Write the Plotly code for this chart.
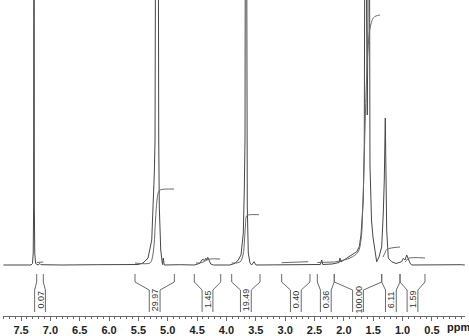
import plotly.graph_objects as go

# ---- 1H NMR spectrum trace (ppm, intensity in arbitrary units) ----
spec_ppm = [7.80, 7.50, 7.33, 7.305, 7.292, 7.285, 7.279, 7.273, 7.266, 7.252, 7.21, 7.18, 7.16,
            6.80, 6.20, 5.80, 5.50,
            5.422, 5.336, 5.273, 5.246, 5.229, 5.217, 5.205, 5.192, 5.180, 5.170, 5.154, 5.144,
            5.120, 5.103, 5.090, 5.076, 5.061,
            4.80, 4.55,
            4.451, 4.422, 4.394, 4.377, 4.353, 4.336, 4.319, 4.297, 4.268, 4.224,
            4.00,
            3.940, 3.854, 3.798, 3.752, 3.735, 3.713, 3.696, 3.684, 3.670, 3.655, 3.645, 3.628,
            3.599, 3.570, 3.531, 3.497,
            3.20, 2.80, 2.50, 2.40, 2.377, 2.36, 2.20, 2.12, 2.08, 2.066, 2.05,
            1.895, 1.781, 1.737, 1.708, 1.691, 1.669, 1.652, 1.640, 1.628, 1.613, 1.601, 1.589,
            1.577, 1.555, 1.529, 1.504, 1.469, 1.441, 1.401, 1.355, 1.328, 1.311, 1.294, 1.282,
            1.270, 1.243, 1.185, 1.112, 1.015, 0.987, 0.958, 0.929, 0.902, 0.873, 0.844,
            0.60, 0.30, 0.00, -0.06]
spec_int = [0, 0.3, 0, 1.5, 12, 60, 600, 60, 12, 1.5, 0, 1.5, 0.3,
            0, 0.3, 0, 0.5,
            2, 7, 25, 58, 92, 125, 165, 700, 450, 650, 125, 58,
            15, 2, 0.5, 7, 0,
            0.3, 0,
            1.7, 5, 5.7, 4.3, 6.7, 5, 7.7, 4.3, 1, 0,
            0.3,
            0, 1.7, 5, 10, 18, 32, 75, 125, 700, 125, 58, 12,
            2, 0, 3.3, 0,
            0.3, 0, 0.3, 0.5, 5, 0.5, 1, 2, 2.5, 7, 3,
            9, 13.3, 18.3, 30, 45, 65, 120, 250, 700, 250, 150, 250,
            700, 100, 45, 28, 12, 3.3, 8, 18.3, 52, 85, 147, 85,
            35, 7, 3.3, 1.5, 3.3, 6.7, 5, 10, 5, 2, 0,
            0.3, 0, 0.3, 0]

# ---- integrals ----
integral_labels = ["0.07", "29.97", "1.45", "19.49", "0.40", "0.36", "100.00", "6.11", "1.59"]
integral_from = [7.233, 5.558, 4.548, 3.911, 3.059, 2.452, 2.163, 1.355, 1.043]
integral_to = [7.120, 4.888, 4.098, 3.428, 2.577, 2.163, 1.355, 1.043, 0.618]

# integral curves drawn over the spectrum
int_curve_ppm = [
    [7.23, 7.12],
    [5.558, 5.302, 5.268, 5.234, 5.209, 5.183, 5.158, 5.132, 4.894],
    [4.519, 4.417, 4.332, 4.280, 4.110],
    [3.911, 3.769, 3.718, 3.693, 3.676, 3.659, 3.633, 3.446],
    [3.059, 2.606],
    [2.452, 2.168],
    [2.163, 1.895, 1.759, 1.708, 1.674, 1.640, 1.614, 1.589, 1.567, 1.538, 1.499, 1.453, 1.385],
    [1.333, 1.299, 1.270, 1.043],
    [0.958, 0.924, 0.902, 0.618],
]
int_curve_val = [
    [2.5, 3],
    [2, 2, 6, 20, 45, 65, 73, 75, 76],
    [2, 2.5, 5, 6, 6],
    [2, 3, 10, 25, 40, 49, 50, 50.3],
    [2.3, 3.3],
    [2.5, 3],
    [3, 7, 13, 25, 65, 135, 185, 215, 232, 241, 247, 249, 250],
    [8, 12, 15.5, 18],
    [3, 5, 6.7, 7],
]

major_ticks = [7.5, 7.0, 6.5, 6.0, 5.5, 5.0, 4.5, 4.0, 3.5, 3.0, 2.5, 2.0, 1.5, 1.0, 0.5]

LINE = "#474747"
GREY = "#6a6a6a"

fig = go.Figure()
fig.add_trace(go.Scatter(x=spec_ppm, y=spec_int, mode="lines",
                         line=dict(color=LINE, width=1), hoverinfo="skip", showlegend=False))

for cx, cy in zip(int_curve_ppm, int_curve_val):
    fig.add_trace(go.Scatter(x=cx, y=cy, mode="lines", line=dict(color=GREY, width=1, shape="spline"),
                             hoverinfo="skip", showlegend=False))

# integral brackets below the spectrum
Y_TOP, Y_CORNER, Y_INNER, Y_BOTTOM, Y_LABEL = -9, -17, -25, -47, -34.5
HALF = 0.092
bx, by = [], []
for a, b in zip(integral_from, integral_to):
    c = (a + b) / 2
    bx += [a, a, c + HALF, c + HALF, None, b, b, c - HALF, c - HALF, None]
    by += [Y_TOP, Y_CORNER, Y_INNER, Y_BOTTOM, None, Y_TOP, Y_CORNER, Y_INNER, Y_BOTTOM, None]
fig.add_trace(go.Scatter(x=bx, y=by, mode="lines", line=dict(color=GREY, width=1),
                         hoverinfo="skip", showlegend=False, connectgaps=False))

for a, b, lab in zip(integral_from, integral_to, integral_labels):
    fig.add_annotation(x=(a + b) / 2, y=Y_LABEL, text=lab, textangle=-90, showarrow=False,
                       font=dict(family="Liberation Sans Narrow, Arial Narrow, Arial", size=9, color="#333"),
                       xanchor="center", yanchor="middle")

fig.add_annotation(xref="paper", yref="paper", x=0.986, y=-0.034, text="ppm", showarrow=False,
                   font=dict(family="Liberation Sans Narrow, Arial", size=11, color="#222", weight="bold"),
                   xanchor="center", yanchor="middle")

fig.update_xaxes(range=[7.807, -0.064], tickmode="array", tickvals=major_ticks,
                 ticktext=[f"{v:.1f}" for v in major_ticks],
                 ticks="outside", ticklen=4, tickcolor=GREY, tickwidth=1,
                 showline=True, linecolor=GREY, linewidth=1, showgrid=False, zeroline=False,
                 minor=dict(tickmode="array", tickvals=[round(i * 0.1, 1) for i in range(0, 79)],
                            ticks="outside", ticklen=2, tickcolor=GREY, showgrid=False),
                 tickfont=dict(family="Liberation Sans Narrow, Arial", size=11, color="#222", weight="bold"))
fig.update_yaxes(range=[-51, 265], visible=False, showgrid=False, zeroline=False)

fig.update_layout(width=469, height=336, margin=dict(l=3, r=4, t=0, b=20),
                  plot_bgcolor="white", paper_bgcolor="white")

fig.write_html("out.html")
